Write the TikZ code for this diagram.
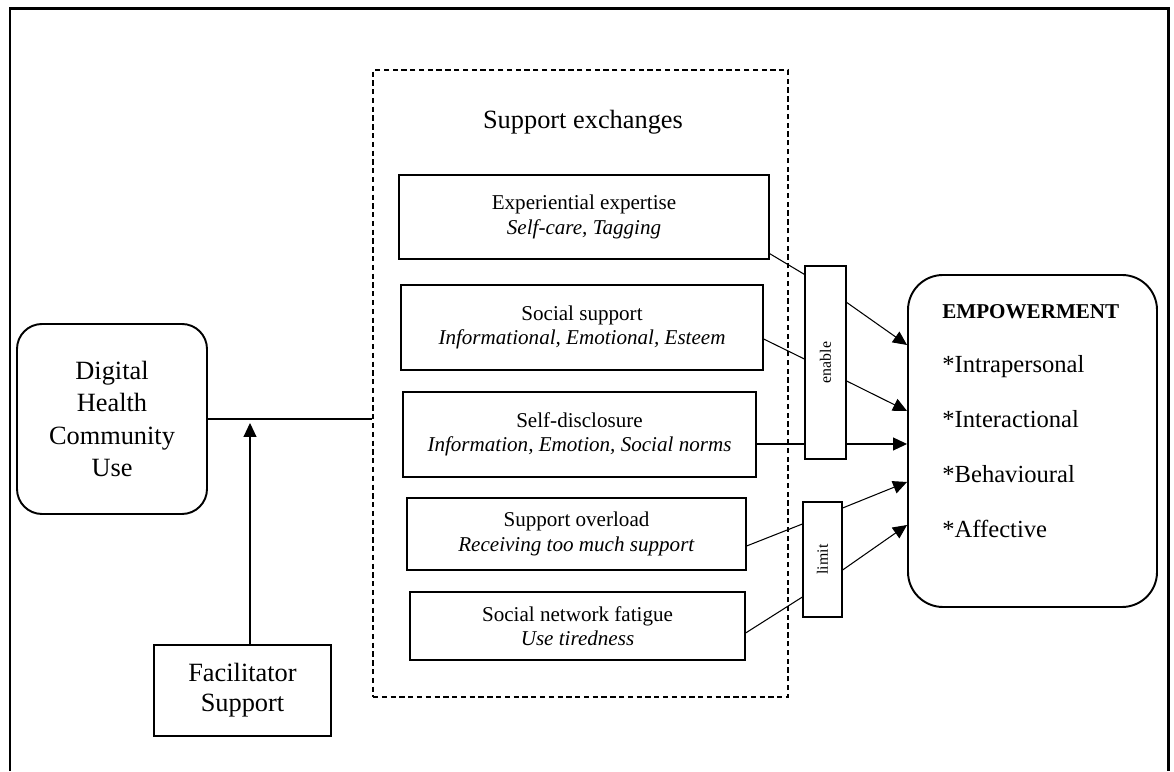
\documentclass[tikz,border=0pt]{standalone}
\usepackage{fontspec}
\setmainfont{Liberation Serif}
\usepackage{graphicx}
\usetikzlibrary{arrows.meta}

\begin{document}
\begin{tikzpicture}[
  exbox/.style={draw, line width=0.7pt, inner sep=0pt, align=center, font=\fontsize{12}{14}\selectfont},
  gatebox/.style={draw, line width=0.7pt, inner sep=0pt, font=\fontsize{9}{10}\selectfont},
  bigbox/.style={draw, line width=1.1pt, align=center, inner sep=0pt},
  dimtxt/.style={anchor=base west, inner sep=0pt, font=\fontsize{14}{16}\selectfont},
  link/.style={line width=0.6pt},
  arr/.style={line width=0.6pt, -{Triangle[length=0.28cm,width=0.26cm]}}
]
\useasboundingbox (0,0) rectangle (23.48,15.42);
\draw[line width=1.7pt] (0.2,0) -- (0.2,15.24) -- (23.36,15.24) -- (23.36,0);

% left side
\node[bigbox, rounded corners=0.5cm, minimum width=3.8cm, minimum height=3.8cm, font=\fontsize{15}{18.5}\selectfont] (dhc) at (2.24,7.04) {Digital\\ Health\\ Community\\ Use};
\node[bigbox, minimum width=3.54cm, minimum height=1.82cm, font=\fontsize{15}{17}\selectfont] (fac) at (4.85,1.61) {Facilitator\\ Support};

% support exchanges
\node[draw, dash pattern=on 3pt off 2pt, line width=0.6pt, inner sep=0pt, minimum width=8.3cm, minimum height=12.54cm] (sup) at (11.61,7.75) {};
\node[font=\fontsize{15}{18}\selectfont] (suptitle) at (11.66,12.98) {Support exchanges};

\node[exbox, minimum width=7.4cm, minimum height=1.68cm] (expert) at (11.68,11.08) {Experiential expertise\\ \textit{Self-care, Tagging}};
\node[exbox, minimum width=7.24cm, minimum height=1.7cm] (social) at (11.64,8.87) {Social support\\ \textit{Informational, Emotional, Esteem}};
\node[exbox, minimum width=7.06cm, minimum height=1.7cm] (disclose) at (11.59,6.73) {Self-disclosure\\ \textit{Information, Emotion, Social norms}};
\node[exbox, minimum width=6.78cm, minimum height=1.44cm] (overload) at (11.53,4.74) {Support overload\\ \textit{Receiving too much support}};
\node[exbox, minimum width=6.7cm, minimum height=1.36cm] (fatigue) at (11.55,2.9) {Social network fatigue\\ \textit{Use tiredness}};

\node[gatebox, minimum width=0.82cm, minimum height=3.86cm] (enable) at (16.51,8.17) {\rotatebox{90}{enable}};
\node[gatebox, minimum width=0.78cm, minimum height=2.3cm] (limit) at (16.45,4.23) {\rotatebox{90}{limit}};

% empowerment
\node[bigbox, rounded corners=0.7cm, minimum width=4.98cm, minimum height=6.64cm] (emp) at (20.65,6.6) {};
\node[dimtxt, font=\fontsize{12}{14}\selectfont\bfseries] (emptitle) at (18.84,9.04) {EMPOWERMENT};
\node[dimtxt] (intra) at (18.84,7.96) {*Intrapersonal};
\node[dimtxt] (inter) at (18.84,6.86) {*Interactional};
\node[dimtxt] (behav) at (18.84,5.76) {*Behavioural};
\node[dimtxt] (affect) at (18.84,4.66) {*Affective};

% connectors
\coordinate (joint) at (5.0,6.96);
\draw[link] (dhc.east) -- (dhc.east -| sup.west);
\draw[arr] (fac.north -| joint) -- (joint);

\draw[link] ([yshift=0.12cm]expert.south east) -- ([yshift=-0.18cm]enable.north west);
\draw[link] ([yshift=-0.23cm]social.east) -- ([yshift=0.07cm]enable.west);
\draw[link] ([yshift=-0.19cm]disclose.east) -- ([yshift=-0.19cm]disclose.east -| enable.west);
\draw[arr] ([yshift=-0.74cm]enable.north east) -- ([yshift=1.92cm]emp.west);
\draw[arr] ([yshift=-0.37cm]enable.east) -- ([yshift=0.6cm]emp.west);
\draw[arr] ([yshift=-0.19cm]disclose.east -| enable.east) -- ([yshift=-0.19cm]disclose.east -| emp.west);

\draw[link] ([yshift=-0.24cm]overload.east) -- ([yshift=0.71cm]limit.west);
\draw[arr] ([yshift=1.03cm]limit.east) -- ([yshift=-0.82cm]emp.west);
\draw[link] ([yshift=-0.14cm]fatigue.east) -- ([yshift=-0.75cm]limit.west);
\draw[arr] ([yshift=-0.21cm]limit.east) -- ([yshift=-1.68cm]emp.west);
\end{tikzpicture}
\end{document}
